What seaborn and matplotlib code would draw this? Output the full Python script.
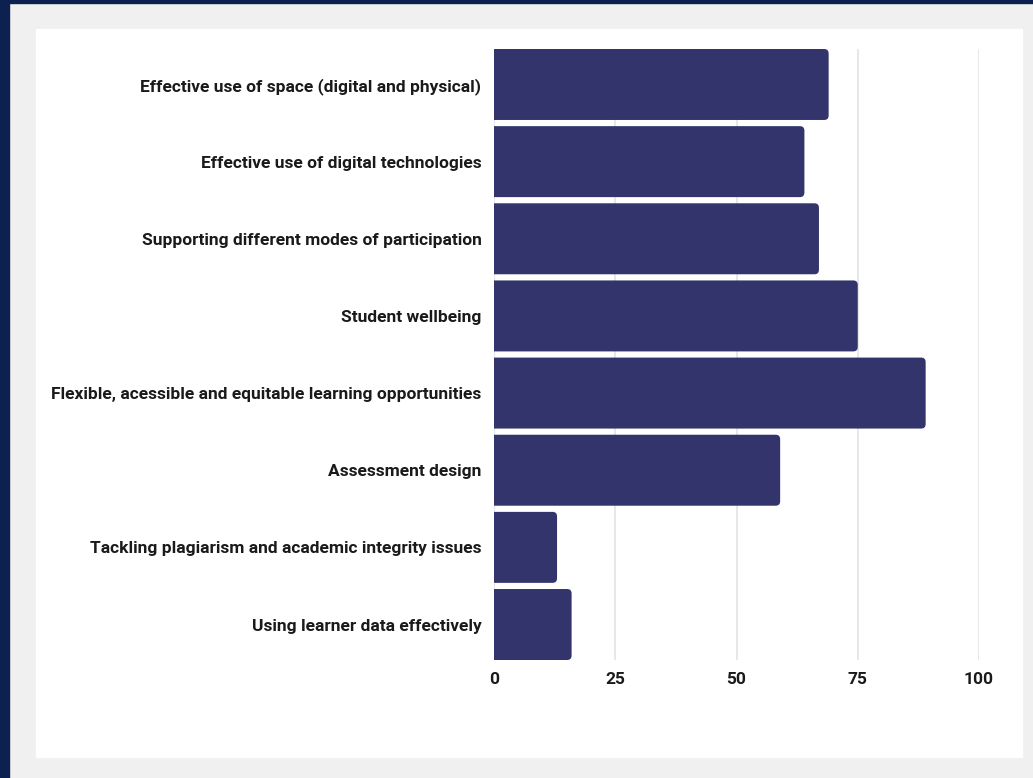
import matplotlib
matplotlib.use("Agg")
import matplotlib.pyplot as plt
import seaborn as sns
import pandas as pd
from matplotlib.patches import Rectangle, FancyBboxPatch

# datos
categorias = [
    "Effective use of space (digital and physical)",
    "Effective use of digital technologies",
    "Supporting different modes of participation",
    "Student wellbeing",
    "Flexible, acessible and equitable learning opportunities",
    "Assessment design",
    "Tackling plagiarism and academic integrity issues",
    "Using learner data effectively",
]
valores = [69, 64, 67, 75, 89, 59, 13, 16]
ticks_x = [0, 25, 50, 75, 100]

df = pd.DataFrame({"categoria": categorias, "valor": valores})

sns.set_theme(style="white")
plt.rcParams["font.family"] = ["Roboto", "DejaVu Sans"]

fig = plt.figure(figsize=(10.33, 7.78), dpi=100)
fig.patch.set_facecolor("#f0f0f0")

# marco azul y panel blanco
fig.patches.append(Rectangle((0, 0), 9 / 1033, 1, transform=fig.transFigure, color="#0c214f", zorder=0))
fig.patches.append(Rectangle((0, 1 - 3 / 778), 1, 3 / 778, transform=fig.transFigure, color="#0c214f", zorder=0))
fig.patches.append(Rectangle((36 / 1033, 1 - 757 / 778), (1022 - 36) / 1033, (757 - 29) / 778,
                             transform=fig.transFigure, color="white", zorder=0))

ax = fig.add_axes([494 / 1033, 1 - 660 / 778, 485 / 1033, 611 / 778])
ax.set_facecolor("none")
ax.set_zorder(2)

ancho = 0.92
sns.barplot(data=df, x="valor", y="categoria", color="#32346b", width=ancho,
            saturation=1, ax=ax, zorder=3)

ax.set_xlim(0, 100)
ax.set_ylim(len(categorias) - 1 + ancho / 2, -ancho / 2)

# esquinas redondeadas a la derecha
px_x = 485 / 100
px_y = 611 / (len(categorias) - 1 + ancho)
radio = 4.5
for barra in list(ax.patches):
    x0, y0 = barra.get_x(), barra.get_y()
    w, h = barra.get_width(), barra.get_height()
    barra.remove()
    nueva = FancyBboxPatch((x0 - 2, y0), w + 2, h,
                           boxstyle=f"round,pad=0,rounding_size={radio / px_x}",
                           mutation_aspect=(px_x / px_y),
                           facecolor="#32346b", edgecolor="none", zorder=3)
    ax.add_patch(nueva)

ax.set_xticks(ticks_x)
ax.xaxis.grid(True, color="#e3e3e3", linewidth=1.2, zorder=0)
ax.yaxis.grid(False)
for s in ax.spines.values():
    s.set_visible(False)
ax.tick_params(axis="x", length=0, pad=9, labelsize=12.5, labelcolor="#1a1a1a")
ax.tick_params(axis="y", length=0, pad=9, labelsize=12.5, labelcolor="#1a1a1a")
for t in ax.get_xticklabels() + ax.get_yticklabels():
    t.set_fontweight("bold")
ax.set_xlabel("")
ax.set_ylabel("")

fig.savefig("out.png", dpi=100, facecolor=fig.get_facecolor())
